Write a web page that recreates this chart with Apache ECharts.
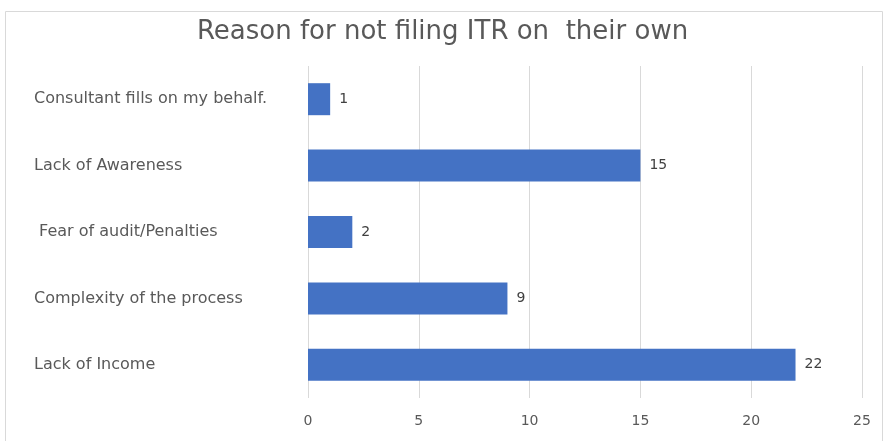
<!DOCTYPE html>
<html>
<head>
<meta charset="utf-8">
<script src="https://cdn.jsdelivr.net/npm/echarts@6/dist/echarts.min.js"></script>
<style>
  html, body { margin: 0; padding: 0; background: #fff; }
  #chart { width: 885px; height: 441px; }
</style>
</head>
<body>
<div id="chart"></div>
<script>
// data, bottom to top as drawn on the category axis
const categories = ['Lack of Income', 'Complexity of the process', ' Fear of audit/Penalties', 'Lack of Awareness', 'Consultant fills on my behalf.'];
const counts = [22, 9, 2, 15, 1];
const axisTicks = [0, 5, 10, 15, 20, 25];

const chart = echarts.init(document.getElementById('chart'));

const option = {
  animation: false,
  title: {
    text: 'Reason for not filing ITR on  their own',
    left: 'center',
    top: 14,
    textStyle: {
      fontFamily: 'DejaVu Sans',
      fontSize: 26,
      fontWeight: 'normal',
      color: '#595959'
    }
  },
  graphic: [{
    type: 'rect',
    shape: { x: 5.5, y: 11.5, width: 877, height: 440 },
    style: { fill: 'none', stroke: '#d9d9d9', lineWidth: 1 },
    silent: true
  }],
  grid: { left: 308, right: 23, top: 66, bottom: 43 },
  xAxis: {
    type: 'value',
    min: axisTicks[0],
    max: axisTicks[axisTicks.length - 1],
    interval: 5,
    axisLine: { show: false },
    axisTick: { show: false },
    axisLabel: { color: '#595959', fontFamily: 'DejaVu Sans', fontSize: 14, margin: 16 },
    splitLine: { lineStyle: { color: '#d9d9d9', width: 1 } }
  },
  yAxis: {
    type: 'category',
    data: categories,
    axisLine: { show: false },
    axisTick: { show: false },
    axisLabel: {
      align: 'left',
      margin: 274,
      color: '#595959',
      fontFamily: 'DejaVu Sans',
      fontSize: 16
    }
  },
  series: [{
    type: 'bar',
    data: counts,
    barWidth: 32,
    itemStyle: { color: '#4472c4' },
    label: {
      show: true,
      position: 'right',
      distance: 9,
      color: '#404040',
      fontFamily: 'DejaVu Sans',
      fontSize: 14
    }
  }]
};

chart.setOption(option);
</script>
</body>
</html>
